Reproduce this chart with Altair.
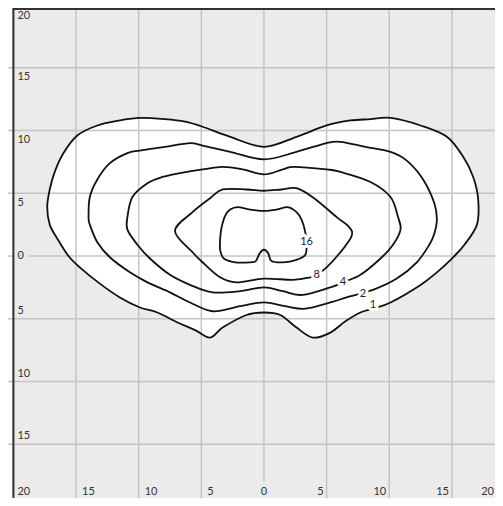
import altair as alt
import pandas as pd

ticks = [-20, -15, -10, -5, 0, 5, 10, 15, 20]
levels = [1, 2, 4, 8, 16]

contour_1 = [(-17.3, 3.9), (-17.1, 5.3), (-16.7, 6.7), (-16.0, 8.2), (-14.9, 9.6), (-13.3, 10.4),
             (-11.5, 10.8), (-9.9, 11.0), (-7.9, 10.9), (-6.3, 10.7), (-4.9, 10.3), (-2.7, 9.5),
             (0.0, 8.7), (2.6, 9.5), (5.0, 10.4), (6.9, 10.8), (8.5, 10.9), (10.1, 11.0),
             (12.5, 10.4), (14.6, 9.5), (15.9, 7.9), (16.7, 6.3), (17.1, 4.5), (17.0, 2.5),
             (16.0, 0.9), (15.1, -0.1), (13.8, -1.3), (12.5, -2.3), (10.1, -3.7), (8.7, -4.2),
             (7.7, -4.5), (6.5, -5.2), (5.3, -6.1), (3.9, -6.5), (2.6, -5.7), (1.3, -4.7),
             (0.0, -4.5), (-1.4, -4.7), (-3.3, -5.7), (-4.3, -6.5), (-5.5, -5.9), (-6.9, -5.3),
             (-8.5, -4.5), (-9.9, -4.1), (-11.5, -3.3), (-13.1, -2.2), (-14.7, -0.9), (-15.6, 0.0),
             (-16.5, 1.4), (-17.1, 2.5)]

contour_2 = [(-14.0, 3.1), (-13.9, 4.7), (-13.3, 6.1), (-12.3, 7.4), (-10.9, 8.2), (-9.9, 8.4),
             (-7.9, 8.7), (-5.9, 9.0), (-4.9, 8.8), (-2.7, 8.3), (0.0, 7.7), (2.6, 8.3),
             (5.0, 9.0), (6.1, 9.1), (8.1, 8.7), (10.1, 8.3), (11.4, 7.6), (12.7, 6.1),
             (13.6, 4.2), (13.8, 2.9), (13.6, 1.8), (13.2, 0.9), (12.2, -0.5), (10.6, -1.8),
             (8.7, -2.7), (6.6, -3.3), (5.3, -3.7), (3.3, -4.2), (1.7, -4.0), (0.0, -3.7),
             (-1.9, -4.0), (-4.1, -4.4), (-5.9, -3.7), (-7.5, -2.9), (-9.3, -2.1), (-10.7, -1.3),
             (-12.3, -0.1), (-13.3, 1.1), (-13.9, 2.5)]

contour_4 = [(-10.9, 2.1), (-10.9, 3.1), (-10.5, 4.7), (-9.3, 5.8), (-8.1, 6.3), (-6.7, 6.6),
             (-4.9, 6.9), (-3.3, 7.1), (-1.7, 6.9), (0.0, 6.5), (1.5, 6.9), (2.4, 7.1),
             (5.0, 6.9), (6.1, 6.7), (8.5, 5.9), (10.1, 4.7), (10.7, 3.1), (10.9, 2.1),
             (10.3, 0.9), (9.3, -0.2), (7.7, -1.5), (6.3, -2.1), (5.3, -2.5), (3.1, -3.1),
             (1.5, -2.8), (0.0, -2.5), (-1.9, -2.8), (-4.1, -2.9), (-5.9, -2.3), (-7.5, -1.5),
             (-9.1, -0.2), (-10.1, 0.9)]

contour_8 = [(-7.1, 2.0), (-5.7, 3.5), (-4.3, 4.6), (-3.3, 5.3), (-1.4, 5.3), (0.0, 5.2),
             (1.4, 5.3), (2.6, 5.4), (4.0, 4.6), (5.8, 3.1), (6.8, 2.3), (7.0, 1.6),
             (6.1, 0.3), (5.0, -0.9), (4.2, -1.5), (3.7, -1.7), (2.3, -1.9), (0.0, -1.8),
             (-2.2, -2.1), (-3.5, -1.7), (-4.9, -0.5), (-5.7, 0.3)]

contour_16 = [(-3.5, 1.3), (-3.4, 2.2), (-3.1, 3.2), (-2.7, 3.7), (-2.1, 3.9), (-1.1, 3.7),
              (0.0, 3.6), (1.0, 3.7), (1.9, 3.9), (2.6, 3.5), (3.0, 2.9), (3.3, 1.9),
              (3.4, 1.0), (3.3, 0.1), (2.6, -0.3), (1.5, -0.5), (0.6, -0.4), (0.35, 0.2),
              (0.0, 0.5), (-0.35, 0.2), (-0.65, -0.4), (-1.1, -0.5), (-2.3, -0.5), (-3.2, -0.2),
              (-3.5, 0.5)]

label_x = [8.7, 7.9, 6.3, 4.2, 3.4]
label_y = [-3.9, -3.0, -2.1, -1.5, 1.1]

rows = []
for lev, pts in zip(levels, [contour_1, contour_2, contour_4, contour_8, contour_16]):
    for i, (x, y) in enumerate(pts):
        rows.append({"level": lev, "idx": i, "x": x, "y": y})
df = pd.DataFrame(rows)

W, H = 487, 490
xs = alt.Scale(domain=[-20.43, 18.44], nice=False, zero=False)
ys = alt.Scale(domain=[-19.28, 19.76], nice=False, zero=False)
BG = "#ebebeb"
FONT = "Lato"

X = lambda f: alt.X(f, scale=xs, axis=None)
Y = lambda f: alt.Y(f, scale=ys, axis=None)
XD = lambda v: alt.X(datum=v, scale=xs, axis=None)

one = pd.DataFrame({"k": [0]})
bg = alt.Chart(one).mark_rect(color=BG).encode(
    x=XD(-20), x2=alt.value(W), y=alt.value(0), y2=alt.value(H))

fill = alt.Chart(df[df.level == 1]).mark_line(
    interpolate="cardinal-closed", fill="white", stroke="white", strokeWidth=1
).encode(x=X("x:Q"), y=Y("y:Q"), order="idx:Q")

gdf = pd.DataFrame({"v": ticks})
vgrid = alt.Chart(gdf).mark_rule(color="#c4c4c4", strokeWidth=1.5).encode(x=X("v:Q"))
hgrid = alt.Chart(gdf).mark_rule(color="#c4c4c4", strokeWidth=1.5).encode(y=Y("v:Q"))

lines = alt.Chart(df).mark_line(
    interpolate="cardinal-closed", color="#111111", strokeWidth=1.8
).encode(x=X("x:Q"), y=Y("y:Q"), detail="level:N", order="idx:Q")

ldf = pd.DataFrame({"x": label_x, "y": label_y, "t": [str(l) for l in levels]})
halo = alt.Chart(ldf).mark_text(
    font=FONT, fontSize=11, color="white", stroke="white", strokeWidth=6, strokeJoin="round"
).encode(x=X("x:Q"), y=Y("y:Q"), text="t:N")
clab = alt.Chart(ldf).mark_text(font=FONT, fontSize=11, color="#222222").encode(
    x=X("x:Q"), y=Y("y:Q"), text="t:N")

tdf = pd.DataFrame({"v": ticks, "t": [str(abs(v)) for v in ticks]})
top = tdf[tdf.v == 20]
pos = tdf[(tdf.v > 0) & (tdf.v < 20)]
neg = tdf[(tdf.v < 0) & (tdf.v > -20)]
low = tdf[tdf.v == -20]
high = tdf[tdf.v == 20]
zero = tdf[tdf.v == 0]
txt = dict(font=FONT, fontSize=11, color="#333333", baseline="middle")
halo_txt = dict(font=FONT, fontSize=11, color=BG, stroke=BG, strokeWidth=10, baseline="middle")
BOTTOM = alt.value(H - 6)

# labels along the left edge
ylab_top = alt.Chart(top).mark_text(align="left", dx=4, dy=11.5, **txt).encode(
    x=XD(-20), y=Y("v:Q"), text="t:N")
ylab_pos = alt.Chart(pos).mark_text(align="left", dx=4, dy=9.5, **txt).encode(
    x=XD(-20), y=Y("v:Q"), text="t:N")
ylab_neg = alt.Chart(neg).mark_text(align="left", dx=4, dy=-8, **txt).encode(
    x=XD(-20), y=Y("v:Q"), text="t:N")
ylab_zero_halo = alt.Chart(zero).mark_text(align="left", dx=4, **halo_txt).encode(
    x=XD(-20), y=Y("v:Q"), text="t:N")
ylab_zero = alt.Chart(zero).mark_text(align="left", dx=4, **txt).encode(
    x=XD(-20), y=Y("v:Q"), text="t:N")

# labels along the bottom edge
xlab_low = alt.Chart(low).mark_text(align="left", dx=4, **txt).encode(
    x=X("v:Q"), y=BOTTOM, text="t:N")
xlab_neg = alt.Chart(neg).mark_text(align="left", dx=6, **txt).encode(
    x=X("v:Q"), y=BOTTOM, text="t:N")
xlab_pos = alt.Chart(pos).mark_text(align="right", dx=-3, **txt).encode(
    x=X("v:Q"), y=BOTTOM, text="t:N")
xlab_high = alt.Chart(high).mark_text(align="right", dx=-1, **txt).encode(
    x=alt.value(W), y=BOTTOM, text="t:N")
xlab_zero_halo = alt.Chart(zero).mark_text(align="center", **halo_txt).encode(
    x=X("v:Q"), y=BOTTOM, text="t:N")
xlab_zero = alt.Chart(zero).mark_text(align="center", **txt).encode(
    x=X("v:Q"), y=BOTTOM, text="t:N")

left_border = alt.Chart(one).mark_rule(color="#333333", strokeWidth=2).encode(x=XD(-20))
top_border = alt.Chart(one).mark_rule(color="#333333", strokeWidth=2).encode(
    x=XD(-20), x2=alt.value(W), y=alt.value(1))

chart = alt.layer(
    bg, fill, vgrid, hgrid, lines, halo, clab,
    ylab_zero_halo, xlab_zero_halo,
    ylab_top, ylab_pos, ylab_neg, ylab_zero,
    xlab_low, xlab_neg, xlab_pos, xlab_high, xlab_zero,
    left_border, top_border,
).properties(
    width=W, height=H, padding=0, autosize=alt.AutoSizeParams(type="none"),
    background="white",
).configure_view(stroke=None)

chart.save("out.html", embed_options={"renderer": "svg", "actions": False})
